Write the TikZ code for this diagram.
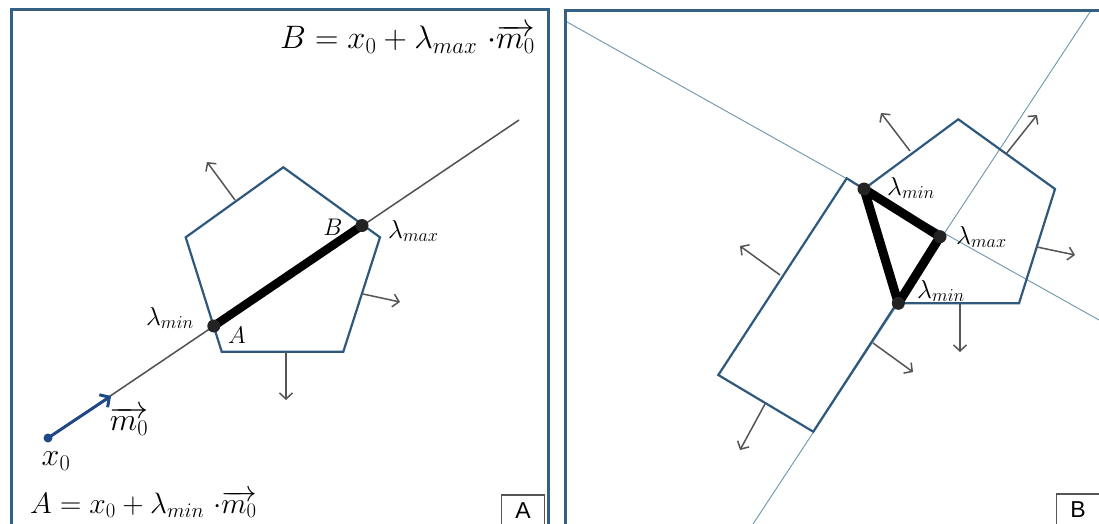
\RequirePackage{fix-cm}
\documentclass[tikz,border=0pt]{standalone}
\usepackage{fontspec}
\usetikzlibrary{arrows.meta}
\newfontfamily\boxfont{Liberation Sans}
\definecolor{frameblue}{RGB}{52,96,132}
\definecolor{shapeblue}{RGB}{47,88,125}
\definecolor{thinblue}{RGB}{110,150,170}
\definecolor{arrowgray}{RGB}{85,85,85}
\definecolor{lineagray}{RGB}{80,80,80}
\definecolor{vecblue}{RGB}{30,72,135}
\definecolor{pointgray}{RGB}{35,35,35}
\begin{document}
\begin{tikzpicture}[x=1pt,y=-1pt,
  panelframe/.style={draw=frameblue,line width=3pt},
  polyshape/.style={draw=shapeblue,line width=2.2pt,line join=miter},
  thinline/.style={draw=thinblue,line width=0.9pt},
  rayline/.style={draw=lineagray,line width=1.5pt},
  normalarrow/.style={draw=arrowgray,line width=1.5pt,-{Straight Barb[length=6pt,width=13pt]}},
  vecarrow/.style={draw=vecblue,line width=3pt,-{Straight Barb[length=7pt,width=15pt]}},
  thickseg/.style={draw=black,line width=9pt,line join=round,line cap=round},
  lab/.style={font=\fontsize{26}{30}\selectfont,inner sep=0pt},
  ptlab/.style={font=\fontsize{24}{28}\selectfont,inner sep=0pt},
  vlab/.style={font=\fontsize{32}{36}\selectfont,inner sep=0pt},
  formtop/.style={font=\fontsize{32.5}{36}\selectfont,inner sep=0pt},
  formbot/.style={font=\fontsize{29.5}{33}\selectfont,inner sep=0pt},
  boxlab/.style={draw=arrowgray,line width=1.5pt,font=\boxfont\fontsize{23}{27}\selectfont,minimum width=43pt,minimum height=32pt,inner sep=0pt}
]
\useasboundingbox (0,0) rectangle (1099,524);
\clip (0,0) rectangle (1099,524);
\fill[white] (0,0) rectangle (1099,524);

% ---------- Panel A ----------
\draw[panelframe] (11,10) rectangle (548,560);

\coordinate (x0) at (48,438);
\coordinate (rayend) at (519,120);
\coordinate (mtip) at (111,396);
\coordinate (PA) at (213.8,326);
\coordinate (PB) at (362,225.5);

\coordinate (aT) at (283.3,167.3);
\coordinate (aR) at (380,237.3);
\coordinate (aLR) at (343.3,351.7);
\coordinate (aLL) at (221.7,351.7);
\coordinate (aL) at (185.7,237.3);
\draw[polyshape] (aT) -- (aR) -- (aLR) -- (aLL) -- (aL) -- cycle;

\draw[normalarrow] (235,200) -- (207,162);
\draw[normalarrow] (363,294) -- (400,302);
\draw[normalarrow] (286,352) -- (286,400);

\draw[rayline] (x0) -- (rayend);
\draw[thickseg,line width=8.5pt] (PA) -- (PB);
\fill[pointgray] (PA) circle (6.5pt);
\fill[pointgray] (PB) circle (6.5pt);

\draw[vecarrow] (x0) -- (mtip);
\fill[vecblue] (x0) circle (4.5pt);

\node[lab,anchor=east] (lminA) at (194,318) {$\lambda_{min}$};
\node[ptlab] (labA) at (237,335) {$A$};
\node[ptlab] (labB) at (333,227) {$B$};
\node[lab,anchor=west] (lmaxA) at (388,231) {$\lambda_{max}$};
\node[vlab] (m0lab) at (129,421) {$\overrightarrow{m_0}$};
\node[vlab] (x0lab) at (56,461) {$x_0$};
\node[formtop,anchor=base east] (formB) at (535,49) {$B = x_0 + \lambda_{max}\ {\cdot}\overrightarrow{m_0}$};
\node[formbot,anchor=base west] (formA) at (30,513) {$A = x_0 + \lambda_{min}\ {\cdot}\overrightarrow{m_0}$};
\node[boxlab] (boxA) at (523,511) {A};

% ---------- Panel B ----------
\draw[panelframe] (565,11) rectangle (1120,560);

\coordinate (l1s) at (567,22);
\coordinate (l1e) at (1099,320);
\coordinate (l2s) at (753,524);
\coordinate (l2e) at (1090,12);
\draw[thinline] (l1s) -- (l1e);
\draw[thinline] (l2s) -- (l2e);

\coordinate (rTL) at (846.7,178.3);
\coordinate (rTR) at (940,236.7);
\coordinate (rBR) at (813.3,431.7);
\coordinate (rBL) at (718.3,375);
\draw[polyshape] (rTL) -- (rTR) -- (rBR) -- (rBL) -- cycle;

\coordinate (bT) at (958.3,119.3);
\coordinate (bR) at (1055,189);
\coordinate (bLR) at (1019,303.3);
\coordinate (bLL) at (898.3,303.3);
\coordinate (bL) at (864,189);
\draw[polyshape] (bT) -- (bR) -- (bLR) -- (bLL) -- (bL) -- cycle;

\draw[normalarrow] (910,151) -- (881,113);
\draw[normalarrow] (1006,154) -- (1037,115);
\draw[normalarrow] (1037,247) -- (1075,255);
\draw[normalarrow] (960,304) -- (960,352);
\draw[normalarrow] (780,275) -- (740,246);
\draw[normalarrow] (873,343) -- (913,372);
\draw[normalarrow] (765,404) -- (740,450);

\draw[thickseg] (bL) -- (rTR) -- (bLL) -- cycle;
\fill[pointgray] (bL) circle (6.5pt);
\fill[pointgray] (rTR) circle (6.5pt);
\fill[pointgray] (bLL) circle (6.5pt);

\node[lab,anchor=west] (lminB1) at (887,188) {$\lambda_{min}$};
\node[lab,anchor=west] (lmaxB) at (956,237) {$\lambda_{max}$};
\node[lab,anchor=west] (lminB2) at (917,291) {$\lambda_{min}$};
\node[boxlab] (boxB) at (1078,510) {B};
\end{tikzpicture}
\end{document}
